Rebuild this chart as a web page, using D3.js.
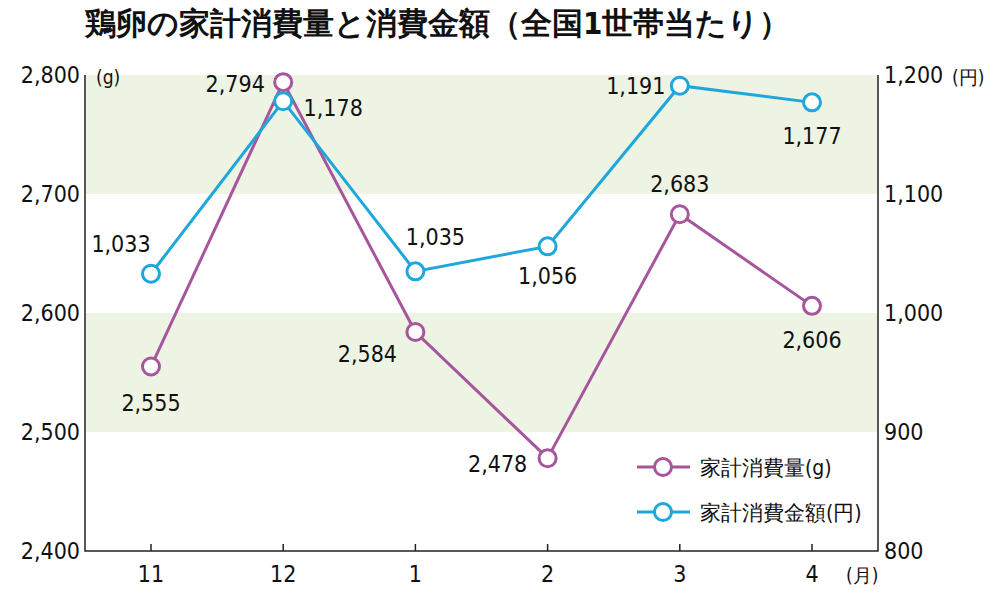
<!DOCTYPE html><html><head><meta charset="utf-8"><script src="https://cdn.jsdelivr.net/npm/d3@7"></script>
<style>body{margin:0;background:#fff}text{font-family:"DejaVu Sans Condensed","DejaVu Sans",sans-serif}</style></head><body>
<svg id="c" width="1000" height="599"></svg>
<script>
const months=["11","12","1","2","3","4"];
const grams=[2555,2794,2584,2478,2683,2606];
const yen=[1033,1178,1035,1056,1191,1177];
const leftTicks=[2400,2500,2600,2700,2800];
const rightTicks=[800,900,1000,1100,1200];
const gOff=[[0,36],[-48,2],[-48,22],[-50,6],[0,-30],[0,34]];
const yOff=[[-30,-30],[50,7],[20,-34],[0,30],[-44,0],[0,34]];
const svg=d3.select("#c");
const x=d3.scalePoint().domain(months).range([151,812]);
const yL=d3.scaleLinear().domain([2400,2800]).range([551,75]);
const yR=d3.scaleLinear().domain([800,1200]).range([551,75]);
const X0=85,X1=878;
[[2700,2800],[2500,2600]].forEach(b=>svg.append("rect").attr("x",X0).attr("width",X1-X0).attr("y",yL(b[1])).attr("height",yL(b[0])-yL(b[1])).attr("fill","#eef4e3"));
svg.append("path").attr("d",`M${X0},${yL(2800)}V551H${X1}V${yL(2800)}`).attr("fill","none").attr("stroke","#222").attr("stroke-width",1.5);
months.forEach(m=>svg.append("line").attr("x1",x(m)).attr("x2",x(m)).attr("y1",551).attr("y2",544).attr("stroke","#222").attr("stroke-width",1.5));
const T=(t,xx,yy,a,s,w)=>svg.append("text").text(t).attr("x",xx).attr("y",yy).attr("text-anchor",a||"middle").attr("font-size",s||22).attr("font-weight",w||"normal").attr("fill","#111");
leftTicks.forEach(v=>T(d3.format(",")(v),80,yL(v)+8,"end",23));
rightTicks.forEach(v=>T(d3.format(",")(v),884,yR(v)+8,"start",23));
months.forEach(m=>T(m,x(m),582,"middle",23));
T("(g)",96,84,"start",19);T("(円)",952,84,"start",19);T("(月)",846,582,"start",19);
T("鶏卵の家計消費量と消費金額（全国1世帯当たり）",85,34,"start",31,"bold");
const line=(data,y,col)=>{
 svg.append("path").datum(data).attr("d",d3.line().x((d,i)=>x(months[i])).y(d=>y(d))).attr("fill","none").attr("stroke",col).attr("stroke-width",3);
 svg.selectAll(null).data(data).enter().append("circle").attr("cx",(d,i)=>x(months[i])).attr("cy",d=>y(d)).attr("r",8.5).attr("fill","#fff").attr("stroke",col).attr("stroke-width",3);
};
line(grams,yL,"#a7569e");line(yen,yR,"#1ea7dc");
grams.forEach((v,i)=>T(d3.format(",")(v),x(months[i])+gOff[i][0],yL(v)+gOff[i][1]+8,"middle",23));
yen.forEach((v,i)=>T(d3.format(",")(v),x(months[i])+yOff[i][0],yR(v)+yOff[i][1]+8,"middle",23));
[["家計消費量(g)","#a7569e",467],["家計消費金額(円)","#1ea7dc",512]].forEach(l=>{
 svg.append("line").attr("x1",637).attr("x2",690).attr("y1",l[2]).attr("y2",l[2]).attr("stroke",l[1]).attr("stroke-width",3);
 svg.append("circle").attr("cx",663).attr("cy",l[2]).attr("r",8.5).attr("fill","#fff").attr("stroke",l[1]).attr("stroke-width",3);
 T(l[0],700,l[2]+8,"start",21);
});
</script></body></html>
